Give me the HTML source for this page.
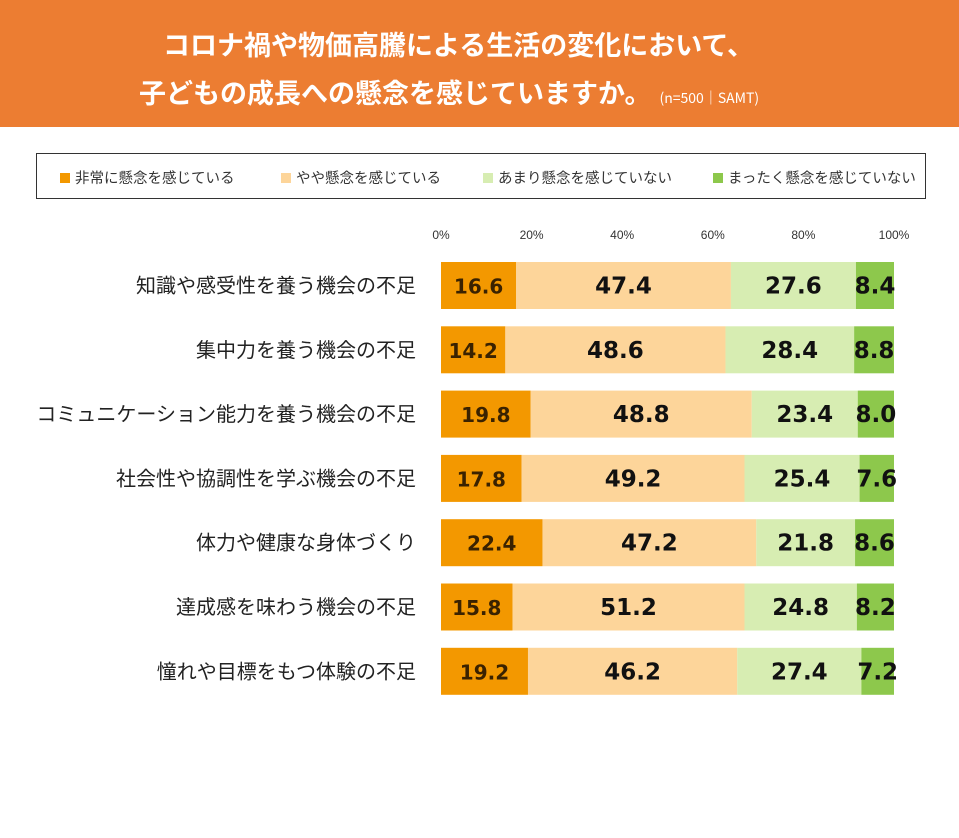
<!DOCTYPE html>
<html><head><meta charset="utf-8"><style>
body{margin:0;width:959px;height:838px;background:#fff;overflow:hidden;font-family:"Liberation Sans","Noto Sans CJK JP",sans-serif;}
#hdr{position:absolute;left:0;top:0;width:959px;height:127px;background:#EC7D32;}
.t{position:absolute;color:#fff;font-weight:bold;font-size:27px;white-space:nowrap;font-family:"Noto Sans CJK JP",sans-serif;}
#legend{position:absolute;left:36px;top:153px;width:890px;height:46px;border:1px solid #333;box-sizing:border-box;}
.li{position:absolute;top:13px;font-size:14.5px;color:#333;white-space:nowrap;font-family:"Noto Sans CJK JP",sans-serif;}
.sw{display:inline-block;width:10px;height:10px;margin-right:5px;vertical-align:0px;}
</style></head><body>
<div id="hdr">
<div class="t" style="left:163px;top:24px">コロナ禍や物価高騰による生活の変化において、</div>
<div class="t" style="left:139px;top:72px">子どもの成長への懸念を感じていますか。<span style="font-size:14px;font-weight:normal;margin-left:8px">(n=500｜SAMT)</span></div>
</div>
<div id="legend">
<div class="li" style="left:23px"><span class="sw" style="background:#F39800"></span>非常に懸念を感じている</div>
<div class="li" style="left:244px"><span class="sw" style="background:#FDD59A"></span>やや懸念を感じている</div>
<div class="li" style="left:446px"><span class="sw" style="background:#D7EDB2"></span>あまり懸念を感じていない</div>
<div class="li" style="left:676px"><span class="sw" style="background:#8DC84C"></span>まったく懸念を感じていない</div>
</div>
<svg id="chart" width="959" height="838" style="position:absolute;left:0;top:0"></svg>
<script>
const categories=["知識や感受性を養う機会の不足","集中力を養う機会の不足","コミュニケーション能力を養う機会の不足","社会性や協調性を学ぶ機会の不足","体力や健康な身体づくり","達成感を味わう機会の不足","憧れや目標をもつ体験の不足"];
const veryConcerned=[16.6,14.2,19.8,17.8,22.4,15.8,19.2];
const somewhatConcerned=[47.4,48.6,48.8,49.2,47.2,51.2,46.2];
const notMuch=[27.6,28.4,23.4,25.4,21.8,24.8,27.4];
const notAtAll=[8.4,8.8,8.0,7.6,8.6,8.2,7.2];
const tickValues=[0,20,40,60,80,100];
const tickLabels=["0%","20%","40%","60%","80%","100%"];
const series=[veryConcerned,somewhatConcerned,notMuch,notAtAll];
const colors=["#F39800","#FDD59A","#D7EDB2","#8DC84C"];
const labelColors=["#3a2200","#111","#111","#111"];
const NS="http://www.w3.org/2000/svg";
const svg=document.getElementById('chart');
const x0=441,xw=453;
const xs=v=>x0+v/100*xw;
const rowY=i=>262+i*64.3;
const bh=47;
function mk(tag,attrs,parent){const e=document.createElementNS(NS,tag);for(const k in attrs)e.setAttribute(k,attrs[k]);(parent||svg).appendChild(e);return e;}
tickValues.forEach((v,i)=>{
 const t=mk('text',{x:xs(v),y:239,'text-anchor':'middle','font-size':12,fill:'#333','font-family':'Liberation Sans, sans-serif'});
 
 
 t.textContent=tickLabels[i];
});
categories.forEach((c,i)=>{
 const y=rowY(i);
 const lab=mk('text',{x:416,y:y+bh/2+7,'text-anchor':'end','font-size':20,fill:'#222','font-family':'Noto Sans CJK JP, sans-serif'});
 
 
 lab.textContent=c;
 let cum=0;
 series.forEach((s,j)=>{
  const v=s[i];
  const r=mk('rect',{x:xs(cum),y:y,width:xs(cum+v)-xs(cum),height:bh,fill:colors[j]});
  
  
  const t=mk('text',{x:(xs(cum)+xs(cum+v))/2,y:y+bh/2+8,'text-anchor':'middle','font-size':j==0?20:23,'font-weight':'bold',fill:labelColors[j],'font-family':'DejaVu Sans, sans-serif'});
  
  
  t.textContent=v.toFixed(1);
  cum+=v;
 });
});
</script>
</body></html>
